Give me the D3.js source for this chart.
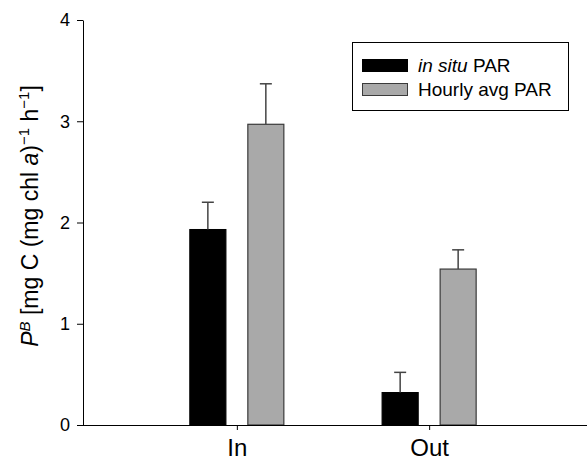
<!DOCTYPE html>
<html>
<head>
<meta charset="utf-8">
<script src="https://cdn.jsdelivr.net/npm/d3@7"></script>
<style>
  body { margin: 0; background: #fff; }
  svg { display: block; font-family: "Liberation Sans", Arial, sans-serif; }
</style>
</head>
<body>
<div id="chart"></div>
<script>
// chart values
const categories = ["In", "Out"];
const series = ["in situ PAR", "Hourly avg PAR"];
const means = {
    "in situ PAR": [1.93, 0.32],
    "Hourly avg PAR": [2.97, 1.54]
};
const errors = {
    "in situ PAR": [0.27, 0.20],
    "Hourly avg PAR": [0.40, 0.19]
};
const yTicks = [0, 1, 2, 3, 4];
const colors = { "in situ PAR": "#000000", "Hourly avg PAR": "#a9a9a9" };

const svg = d3.select("#chart")
    .append("svg")
    .attr("width", 587)
    .attr("height", 462);

const x0 = d3.scalePoint()
    .domain(categories)
    .range([83, 583])
    .padding(0.8);

// bars within a group
const x1 = d3.scaleBand()
    .domain(series)
    .range([-47, 47])
    .paddingInner(0.379);

const y = d3.scaleLinear()
    .domain([0, 4])
    .range([425, 20]);

// y axis
svg.append("g")
    .attr("transform", "translate(83,0)")
    .call(d3.axisLeft(y).tickValues(yTicks).tickFormat(d3.format("d"))
        .tickSize(6).tickSizeOuter(0).tickPadding(7))
    .call(g => g.selectAll("text").style("font-size", "18px").attr("fill", "#000"))
    .call(g => g.select(".domain").attr("stroke", "#000"));

// bars
const groups = svg.selectAll("g.group")
    .data(categories)
    .enter().append("g")
    .attr("class", "group")
    .attr("transform", d => `translate(${x0(d)},0)`);

series.forEach(s => {
    groups.append("rect")
        .attr("x", x1(s))
        .attr("width", x1.bandwidth())
        .attr("y", (d, i) => y(means[s][i]))
        .attr("height", (d, i) => y(0) - y(means[s][i]))
        .attr("fill", colors[s])
        .attr("stroke", s === "in situ PAR" ? "#000" : "#3a3a3a")
        .attr("stroke-width", 1.2);

    // upper error bars only
    const cx = x1(s) + x1.bandwidth() / 2;
    groups.append("line")
        .attr("x1", cx).attr("x2", cx)
        .attr("y1", (d, i) => y(means[s][i]))
        .attr("y2", (d, i) => y(means[s][i] + errors[s][i]))
        .attr("stroke", "#444").attr("stroke-width", 1.5);
    groups.append("line")
        .attr("x1", cx - 6).attr("x2", cx + 6)
        .attr("y1", (d, i) => y(means[s][i] + errors[s][i]))
        .attr("y2", (d, i) => y(means[s][i] + errors[s][i]))
        .attr("stroke", "#444").attr("stroke-width", 1.5);
});

// x axis
const xAxis = svg.append("g")
    .attr("transform", `translate(0,${y(0)})`)
    .call(d3.axisBottom(x0).tickSize(5).tickSizeOuter(0).tickPadding(9))
    .call(g => g.selectAll("text").style("font-size", "24px").attr("fill", "#000"))
    .call(g => g.select(".domain").remove());
xAxis.append("line")
    .attr("x1", 83).attr("x2", 587)
    .attr("y1", 0.5).attr("y2", 0.5)
    .attr("stroke", "#000");

// y label
const yLabel = svg.append("text")
    .attr("transform", "rotate(-90)")
    .attr("x", -216)
    .attr("y", 38)
    .attr("text-anchor", "middle")
    .style("font-size", "23px");
yLabel.append("tspan").style("font-style", "italic").text("P");
yLabel.append("tspan").style("font-style", "italic").style("font-size", "15px").attr("dy", -8).text("B");
yLabel.append("tspan").attr("dy", 8).text(" [mg C (mg chl ");
yLabel.append("tspan").style("font-style", "italic").text("a");
yLabel.append("tspan").text(")");
yLabel.append("tspan").style("font-size", "15px").attr("dy", -9).text("\u22121");
yLabel.append("tspan").attr("dy", 9).text(" h");
yLabel.append("tspan").style("font-size", "15px").attr("dy", -9).text("\u22121");
yLabel.append("tspan").attr("dy", 9).text("]");

// legend
const legend = svg.append("g").attr("class", "legend");
legend.append("rect")
    .attr("x", 352.5).attr("y", 42.5)
    .attr("width", 216).attr("height", 68)
    .attr("fill", "#fff").attr("stroke", "#000");
series.forEach((s, i) => {
    legend.append("rect")
        .attr("x", 362.5).attr("y", 59.5 + i * 24)
        .attr("width", 45).attr("height", 12)
        .attr("fill", colors[s])
        .attr("stroke", i === 0 ? "#000" : "#3a3a3a");
    const t = legend.append("text")
        .attr("x", 418).attr("y", 72 + i * 24)
        .style("font-size", "19px");
    if (i === 0) {
        t.append("tspan").style("font-style", "italic").text("in situ");
        t.append("tspan").text(" PAR");
    } else {
        t.text(s);
    }
});
</script>
</body>
</html>
